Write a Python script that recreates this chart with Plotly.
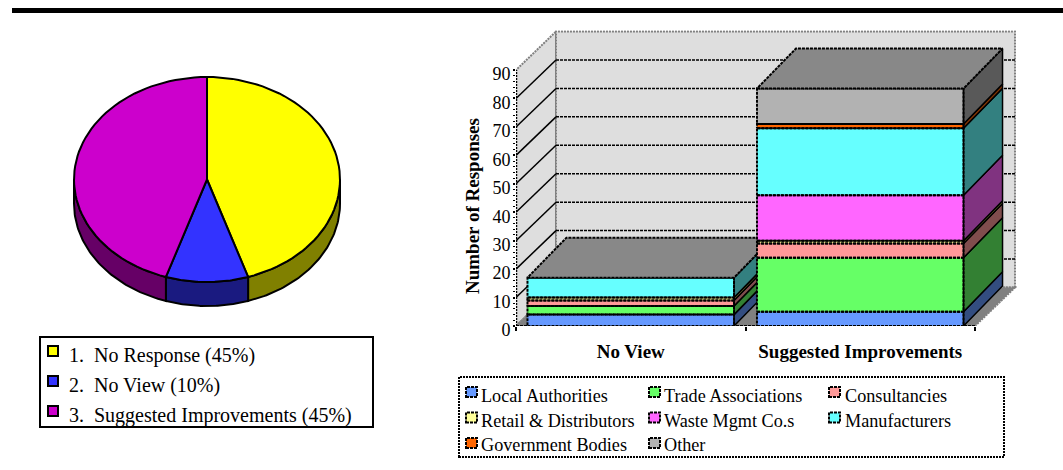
import numpy as np
import plotly.graph_objects as go

W, H = 1063, 470
SERIF = "Liberation Serif"

# ---- data ----
pie_labels = ["1.  No Response (45%)", "2.  No View (10%)", "3.  Suggested Improvements (45%)"]
pie_values = [45, 10, 45]
pie_colors = ["#ffff00", "#3333ff", "#cc00cc"]
pie_sides = ["#808000", "#1a1a80", "#660066"]

categories = ["No View", "Suggested Improvements"]
series_names = ["Local Authorities", "Trade Associations", "Consultancies",
                "Retail & Distributors", "Waste Mgmt Co.s", "Manufacturers",
                "Government Bodies", "Other"]
no_view = [4, 3, 2, 1, 0, 7, 0, 0]
suggested = [5, 19, 5, 1, 16, 23.5, 1.5, 12.5]
series_colors = ["#6699ff", "#66ff66", "#ff9999", "#ffff99", "#ff66ff", "#66ffff", "#ff6600", "#b2b2b2"]
side_colors = ["#334d80", "#338033", "#804d4d", "#808033", "#803380", "#338080", "#803300", "#595959"]
y_ticks = [0, 10, 20, 30, 40, 50, 60, 70, 80, 90]

# ---- bar chart geometry ----
PX_PER_CAT = 229.5
PX_PER_UNIT = 2.844
X0_PX, Y0_PX = 516, 326
WALL_DX, WALL_DY = 40 / PX_PER_CAT, 38.5 / PX_PER_UNIT
BAR_DX, BAR_DY = 39 / PX_PER_CAT, 40 / PX_PER_UNIT
BAR_WIDTH = 0.9
x_range = [-0.5, 1.5 + 42 / PX_PER_CAT]
y_range = [0, 104]
EDGE = dict(color="black", width=2, dash="3px,1px")


def px_x(x):
    return x / W


def px_y(y):
    return 1 - y / H


fig = go.Figure()
shapes = []
annotations = []


def wall(xs, ys, fill, line_color="#808080"):
    path = "M " + " L ".join(f"{a},{b}" for a, b in zip(xs, ys)) + " Z"
    shapes.append(dict(type="path", path=path, xref="x", yref="y", layer="below", fillcolor=fill,
                       line=dict(color=line_color, width=2, dash="2px,1px")))


# walls and floor sit under every bar
xl, xr = -0.5, 1.5
top = y_ticks[-1]
wall([xl, xl + WALL_DX, xl + WALL_DX, xl], [0, WALL_DY, top + WALL_DY, top], "#dedede")
wall([xl + WALL_DX, xr + WALL_DX, xr + WALL_DX, xl + WALL_DX], [WALL_DY, WALL_DY, top + WALL_DY, top + WALL_DY], "#dedede")
wall([xl, xr, xr + WALL_DX, xl + WALL_DX], [0, 0, WALL_DY, WALL_DY], "#808080")
for t in y_ticks[1:-1]:
    shapes.append(dict(type="line", xref="x", yref="y", layer="below", x0=xl, x1=xl + WALL_DX, y0=t, y1=t + WALL_DY,
                       line=dict(color="black", width=1.5)))
    shapes.append(dict(type="line", xref="x", yref="y", layer="below", x0=xl + WALL_DX, x1=xr + WALL_DX,
                       y0=t + WALL_DY, y1=t + WALL_DY, line=dict(color="black", width=1.5, dash="3px,1px")))


def add_stack(center, values, xa, ya):
    left, right = center - BAR_WIDTH / 2, center + BAR_WIDTH / 2
    base = 0
    for name, v, col, side in zip(series_names, values, series_colors, side_colors):
        if v == 0:
            continue
        fig.add_trace(go.Bar(x=[center], y=[v], base=[base], width=[BAR_WIDTH], name=name, marker=dict(color=col, line_width=0),
                             xaxis=xa, yaxis=ya, showlegend=False))
        fig.add_trace(go.Scatter(x=[right, right, right + BAR_DX, right + BAR_DX, right],
                                 y=[base, base + v, base + v + BAR_DY, base + BAR_DY, base],
                                 mode="lines", fill="toself", fillcolor=side, line=dict(color="black", width=1.5),
                                 xaxis=xa, yaxis=ya, showlegend=False, hoverinfo="skip", cliponaxis=False))
        fig.add_trace(go.Scatter(x=[left, right, right, left, left],
                                 y=[base, base, base + v, base + v, base],
                                 mode="lines", line=EDGE, xaxis=xa, yaxis=ya, showlegend=False,
                                 hoverinfo="skip", cliponaxis=False))
        base += v
    fig.add_trace(go.Scatter(x=[left, right, right + BAR_DX, left + BAR_DX, left],
                             y=[base, base, base + BAR_DY, base + BAR_DY, base],
                             mode="lines", fill="toself", fillcolor="#888888", line=EDGE,
                             xaxis=xa, yaxis=ya, showlegend=False, hoverinfo="skip", cliponaxis=False))


# the value axis and the front floor edge
fig.add_trace(go.Scatter(x=[xl, xl], y=[0, top], mode="lines", line=dict(color="black", width=2.5, dash="2px,1px"),
                         xaxis="x", yaxis="y", showlegend=False, hoverinfo="skip", cliponaxis=False))
fig.add_trace(go.Scatter(x=[xl, xr], y=[0, 0], mode="lines", line=EDGE,
                         xaxis="x", yaxis="y", showlegend=False, hoverinfo="skip", cliponaxis=False))

# each stack gets its own overlaid subplot so the nearer one hides the farther one's side
add_stack(0, no_view, "x2", "y2")
add_stack(1, suggested, "x3", "y3")

# ---- pie geometry ----
RX, RY, DEPTH = 133, 102.5, 24
CY_PX = 179.5
angles = np.concatenate([[0], np.cumsum(pie_values)]) * 3.6


def arc(a, b, n=60):
    t = np.radians(np.linspace(a, b, n))
    return RX * np.sin(t), RY * np.cos(t)


for i in range(len(pie_values)):
    a, b = max(angles[i], 90), min(angles[i + 1], 270)
    if a < b:
        ax, ay = arc(a, b)
        fig.add_trace(go.Scatter(x=np.concatenate([ax, ax[::-1], ax[:1]]),
                                 y=np.concatenate([ay, ay[::-1] - DEPTH, ay[:1]]),
                                 mode="lines", fill="toself", fillcolor=pie_sides[i],
                                 line=dict(color="black", width=2), xaxis="x4", yaxis="y4",
                                 showlegend=False, hoverinfo="skip", cliponaxis=False))
for i in range(len(pie_values)):
    ax, ay = arc(angles[i], angles[i + 1])
    fig.add_trace(go.Scatter(x=np.concatenate([[0], ax, [0]]), y=np.concatenate([[0], ay, [0]]),
                             mode="lines", fill="toself", fillcolor=pie_colors[i], name=pie_labels[i],
                             line=dict(color="black", width=2), xaxis="x4", yaxis="y4",
                             showlegend=False, hoverinfo="skip", cliponaxis=False))

# ---- page furniture and legends ----
shapes.append(dict(type="rect", xref="paper", yref="paper", x0=px_x(12), x1=px_x(1063), y0=px_y(13), y1=px_y(8),
                   fillcolor="black", line_width=0))


def box(x0, y0, x1, y1, line, fill="rgba(0,0,0,0)"):
    shapes.append(dict(type="rect", xref="paper", yref="paper", x0=px_x(x0), x1=px_x(x1), y0=px_y(y1), y1=px_y(y0),
                       fillcolor=fill, line=line))


def legend_label(x, y, text, size):
    annotations.append(dict(xref="paper", yref="paper", x=px_x(x), y=px_y(y), text=text, showarrow=False,
                            xanchor="left", yanchor="middle", font=dict(family=SERIF, size=size, color="black")))


box(40, 337, 373, 427, dict(color="black", width=2))
for i, (label, col) in enumerate(zip(pie_labels, pie_colors)):
    yc = 351 + i * 30
    box(48, yc - 5, 58, yc + 5, dict(color="black", width=2), col)
    legend_label(67, yc + 4, label, 20)

box(459, 377, 1004, 457, dict(color="black", width=2, dash="2px,1px"))
col_swatch = [466, 649, 829]
col_text = [479, 662, 843]
row_swatch = [392, 417.5, 443]
row_text = [396, 421, 445]
for i, (name, col) in enumerate(zip(series_names, series_colors)):
    r, c = i // 3, i % 3
    sy = row_swatch[r]
    box(col_swatch[c], sy - 5, col_swatch[c] + 11, sy + 5, EDGE, col)
    legend_label(col_text[c], row_text[r], name, 18.2)

annotations.append(dict(xref="paper", yref="paper", x=px_x(472), y=px_y(206), text="<b>Number of Responses</b>",
                        textangle=-90, showarrow=False, font=dict(family=SERIF, size=19, color="black")))

dom_x = [px_x(X0_PX), px_x(X0_PX + (x_range[1] - x_range[0]) * PX_PER_CAT)]
dom_y = [px_y(Y0_PX), px_y(Y0_PX - y_range[1] * PX_PER_UNIT)]
hidden = dict(visible=False, fixedrange=True)

fig.update_layout(
    width=W, height=H, autosize=False, margin=dict(l=0, r=0, t=0, b=0, autoexpand=False),
    paper_bgcolor="white", plot_bgcolor="rgba(0,0,0,0)", barmode="overlay", bargap=0,
    showlegend=False, shapes=shapes, annotations=annotations,
    xaxis=dict(domain=dom_x, range=x_range, anchor="y", showgrid=False, zeroline=False, showline=False,
               tickmode="array", tickvals=[0, 1], ticktext=[f"<b>{c}</b>" for c in categories],
               ticks="", ticklabelstandoff=12, tickfont=dict(family=SERIF, size=19, color="black"),
               minor=dict(tickmode="array", tickvals=[-0.5, 0.5, 1.5], ticks="outside", ticklen=4, tickwidth=1.5,
                          tickcolor="black", showgrid=False), fixedrange=True),
    yaxis=dict(domain=dom_y, range=y_range, anchor="x", showgrid=False, zeroline=False, showline=False,
               tickmode="array", tickvals=y_ticks, ticks="outside", ticklen=2, tickwidth=1.5, tickcolor="black",
               ticklabelshift=4, ticklabelstandoff=-1, tickfont=dict(family=SERIF, size=18, color="black"),
               minor=dict(tickmode="array", tickvals=list(range(2, 91, 2)), ticks="outside", ticklen=2, tickwidth=1,
                          tickcolor="black", showgrid=False), fixedrange=True),
    xaxis2=dict(range=x_range, overlaying="x", anchor="y2", **hidden),
    yaxis2=dict(range=y_range, overlaying="y", anchor="x2", **hidden),
    xaxis3=dict(range=x_range, overlaying="x", anchor="y3", **hidden),
    yaxis3=dict(range=y_range, overlaying="y", anchor="x3", **hidden),
    xaxis4=dict(domain=[px_x(50), px_x(360)], range=[50 - 207, 360 - 207], anchor="y4", **hidden),
    yaxis4=dict(domain=[px_y(320), px_y(60)], range=[CY_PX - 320, CY_PX - 60], anchor="x4", **hidden),
)

fig.write_html("out.html")
